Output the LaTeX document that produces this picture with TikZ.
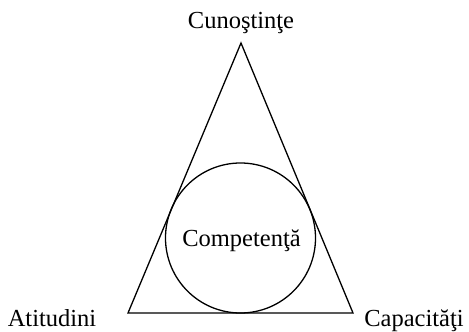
\documentclass[tikz,border=0pt]{standalone}
\usepackage{fontspec}
\setmainfont{Liberation Serif}
\usepackage{tikz}
\usetikzlibrary{positioning}

\begin{document}
\begin{tikzpicture}[x=1pt,y=1pt,line width=1.3pt,
  lbl/.style={font=\fontsize{24.5}{29}\selectfont,inner sep=0pt,anchor=base}]
  \useasboundingbox (0,0) rectangle (469,332);
  \coordinate (top) at (241,289);
  \coordinate (left) at (128,19);
  \coordinate (right) at (353,19);
  \draw (left) -- (right) -- (top) -- cycle;
  \node[circle,draw,minimum size=150pt,inner sep=0pt] (comp) at (240.5,94) {};
  \node[lbl] (competenta) at (241.5,85) {Competenţă};
  \node[lbl] (cunostinte) at (241,303.5) {Cunoştinţe};
  \node[lbl] (atitudini) at (52,5.5) {Atitudini};
  \node[lbl] (capacitati) at (414,5.5) {Capacităţi};
\end{tikzpicture}
\end{document}
